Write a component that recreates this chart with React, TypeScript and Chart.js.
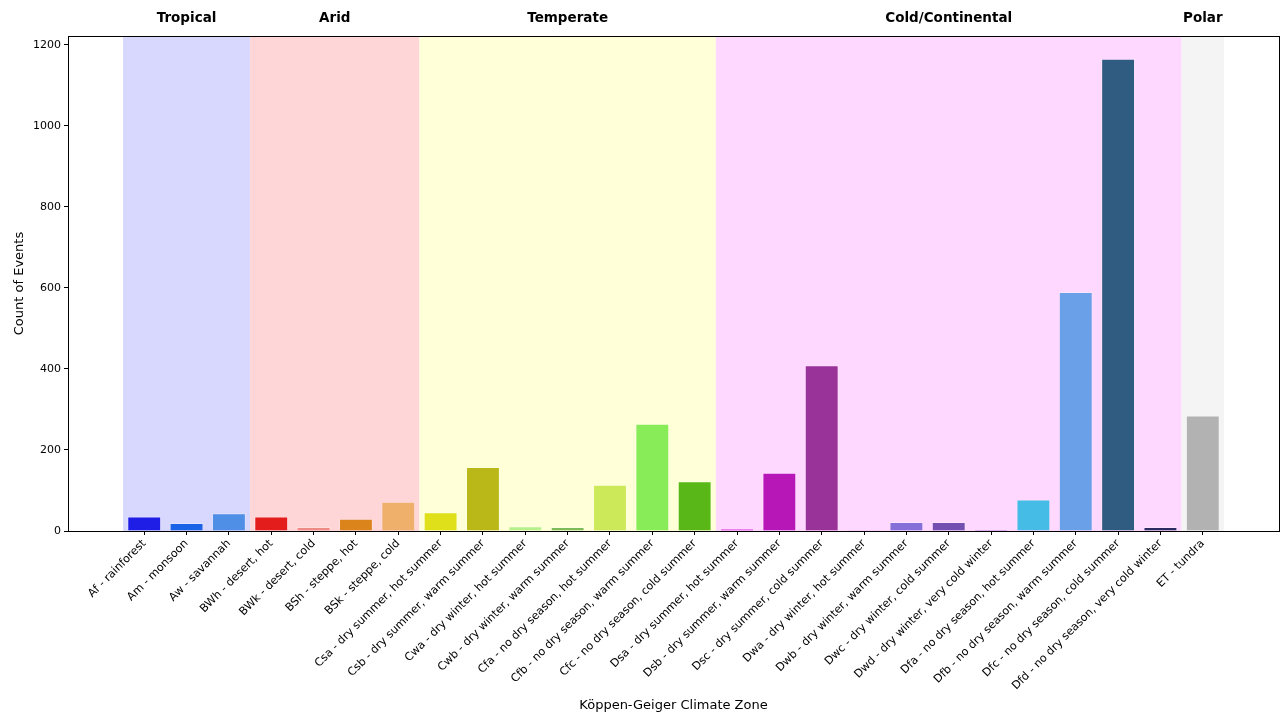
import React, { useEffect, useRef } from "react";
import { Chart, registerables } from "chart.js";

Chart.register(...registerables);

const zoneLabels = [
  "Af - rainforest",
  "Am - monsoon",
  "Aw - savannah",
  "BWh - desert, hot",
  "BWk - desert, cold",
  "BSh - steppe, hot",
  "BSk - steppe, cold",
  "Csa - dry summer, hot summer",
  "Csb - dry summer, warm summer",
  "Cwa - dry winter, hot summer",
  "Cwb - dry winter, warm summer",
  "Cfa - no dry season, hot summer",
  "Cfb - no dry season, warm summer",
  "Cfc - no dry season, cold summer",
  "Dsa - dry summer, hot summer",
  "Dsb - dry summer, warm summer",
  "Dsc - dry summer, cold summer",
  "Dwa - dry winter, hot summer",
  "Dwb - dry winter, warm summer",
  "Dwc - dry winter, cold summer",
  "Dwd - dry winter, very cold winter",
  "Dfa - no dry season, hot summer",
  "Dfb - no dry season, warm summer",
  "Dfc - no dry season, cold summer",
  "Dfd - no dry season, very cold winter",
  "ET - tundra",
];

const eventCounts = [36, 20, 44, 36, 10, 30, 72, 46, 158, 12, 10, 114, 265, 123, 6, 144, 409, 3, 22, 22, 4, 78, 590, 1166, 10, 285];

const barColors = [
  "#1e1ee6", "#1a62e6", "#4f8fe6", "#e31c1c", "#f08a84", "#dc841c", "#eeb06a",
  "#e0e01a", "#bab818", "#b4f08c", "#7cbc58", "#cce95a", "#88ec58", "#59b818",
  "#dc1adc", "#b817b8", "#993399", "#c8a0e8", "#8470d8", "#7350b0", "#7a3a9a",
  "#44bce6", "#6aa0e8", "#305c82", "#2b2b62", "#b2b2b2",
];

const groupNames = ["Tropical", "Arid", "Temperate", "Cold/Continental", "Polar"];
const groupStart = [0, 3, 7, 14, 25];
const groupEnd = [2, 6, 13, 24, 25];
const groupColors = ["#d8d8ff", "#ffd6d8", "#ffffd8", "#fed8ff", "#f4f4f4"];

const yTicks = [0, 200, 400, 600, 800, 1000, 1200];
const yMax = 1222;
const xMin = -1.8;
const xMax = 26.8;

const FONT = "'DejaVu Sans', sans-serif";

export default function App() {
  const ref = useRef<HTMLCanvasElement | null>(null);

  useEffect(() => {
    document.body.style.margin = "0";
    const canvas = ref.current!;
    const bgPlugin = {
      id: "bgSpans",
      beforeDatasetsDraw(chart: any) {
        const { ctx, chartArea, scales } = chart;
        const x = scales.x;
        ctx.save();
        groupNames.forEach((_, g) => {
          const l = x.getPixelForValue(groupStart[g] - 0.5);
          const r = x.getPixelForValue(groupEnd[g] + 0.5);
          ctx.fillStyle = groupColors[g];
          ctx.fillRect(l, chartArea.top, r - l, chartArea.bottom - chartArea.top);
        });
        ctx.restore();
      },
      afterDraw(chart: any) {
        const { ctx, chartArea, scales } = chart;
        const x = scales.x;
        ctx.save();
        ctx.strokeStyle = "#000";
        ctx.lineWidth = 1;
        ctx.strokeRect(
          Math.round(chartArea.left) + 0.5,
          Math.round(chartArea.top) + 0.5,
          Math.round(chartArea.right - chartArea.left),
          Math.round(chartArea.bottom - chartArea.top)
        );
        ctx.fillStyle = "#000";
        ctx.font = `bold 13.5px ${FONT}`;
        ctx.textAlign = "center";
        ctx.textBaseline = "middle";
        groupNames.forEach((name, g) => {
          const c = x.getPixelForValue((groupStart[g] + groupEnd[g]) / 2);
          ctx.fillText(name, c, 18);
        });
        ctx.restore();
      },
    };

    const chart = new Chart(canvas, {
      type: "bar",
      data: {
        datasets: [
          {
            data: eventCounts.map((v, i) => ({ x: i, y: v })),
            backgroundColor: barColors,
            borderColor: "rgba(255,255,255,0.25)",
            borderWidth: 1,
            categoryPercentage: 1,
            barPercentage: 0.8,
          } as any,
        ],
      },
      options: {
        animation: false,
        responsive: false,
        devicePixelRatio: 1,
        layout: { padding: { top: 36, right: 4, left: 0, bottom: 0 } },
        plugins: { legend: { display: false }, tooltip: { enabled: false } },
        scales: {
          x: {
            type: "linear",
            min: xMin,
            max: xMax,
            offset: false,
            afterBuildTicks(scale: any) {
              scale.ticks = zoneLabels.map((_, i) => ({ value: i }));
            },
            afterFit(scale: any) {
              scale.height = 186;
            },
            ticks: {
              autoSkip: false,
              minRotation: 45,
              maxRotation: 45,
              color: "#000",
              font: { family: FONT, size: 11.2 },
              padding: 2,
              callback: (v: any) => zoneLabels[v] ?? "",
            },
            grid: { offset: false, drawOnChartArea: false, drawTicks: true, tickLength: 4, color: "#000" },
            border: { display: true, color: "#000" },
            title: {
              display: true,
              text: "Köppen-Geiger Climate Zone",
              color: "#000",
              font: { family: FONT, size: 13 },
              padding: { top: 0, bottom: 4 },
            },
          },
          y: {
            min: 0,
            max: yMax,
            afterBuildTicks(scale: any) {
              scale.ticks = yTicks.map((v) => ({ value: v }));
            },
            afterFit(scale: any) {
              scale.width = 68;
            },
            ticks: {
              color: "#000",
              font: { family: FONT, size: 11 },
              padding: 3,
              callback: (v: any) => String(v),
            },
            grid: { drawOnChartArea: false, drawTicks: true, tickLength: 4, color: "#000" },
            border: { display: true, color: "#000" },
            title: {
              display: true,
              text: "Count of Events",
              color: "#000",
              font: { family: FONT, size: 13 },
              padding: { top: 12, bottom: 0 },
            },
          },
        },
      } as any,
      plugins: [bgPlugin],
    });
    return () => chart.destroy();
  }, []);

  return (
    <div style={{ position: "fixed", left: 0, top: 0, width: 1283, height: 717, background: "#fff" }}>
      <canvas ref={ref} width={1283} height={717} style={{ width: 1283, height: 717 }} />
    </div>
  );
}
